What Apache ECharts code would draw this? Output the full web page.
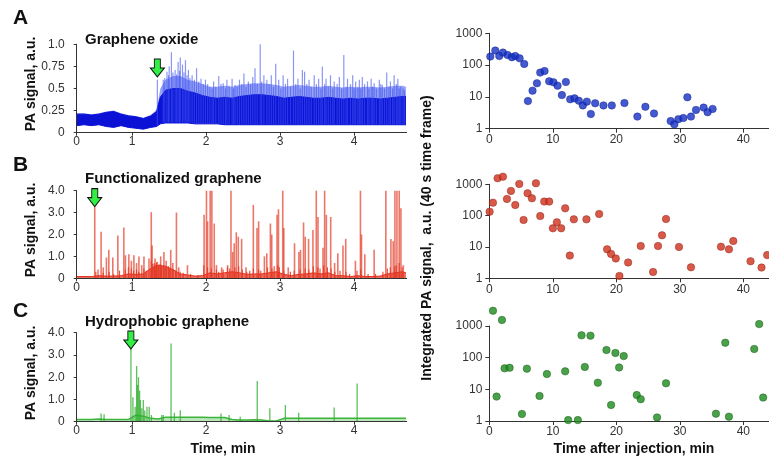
<!DOCTYPE html>
<html><head><meta charset="utf-8">
<script src="https://cdn.jsdelivr.net/npm/echarts@6/dist/echarts.min.js"></script>
<style>html,body{margin:0;padding:0;background:#fff}#c{width:769px;height:464px}</style>
</head><body><div id="c"></div>
<script>
const FONT = "'Liberation Sans', Arial, sans-serif";

// ---- left panels: time axis ----
const timeTickPos = [0.25, 1, 2, 3, 4];
const timeTickLabels = ['0', '1', '2', '3', '4'];
const envTimes = [0.25,0.35,0.45,0.55,0.65,0.75,0.85,0.95,1.05,1.15,1.25,1.35,1.45,1.55,1.65,1.75,1.85,1.95,2.05,2.15,2.25,2.35,2.45,2.55,2.65,2.75,2.85,2.95,3.05,3.15,3.25,3.35,3.45,3.55,3.65,3.75,3.85,3.95,4.05,4.15,4.25,4.35,4.45,4.55,4.65,4.70];

// Panel A: graphene oxide (band envelope + texture + spikes)
const aTimes = [0.25,0.35,0.45,0.55,0.65,0.75,0.85,0.95,1.05,1.15,1.25,1.33,1.38,1.45,1.55,1.65,1.75,1.85,1.95,2.05,2.15,2.25,2.35,2.45,2.55,2.65,2.75,2.85,2.95,3.05,3.15,3.25,3.35,3.45,3.55,3.65,3.75,3.85,3.95,4.05,4.15,4.25,4.35,4.45,4.55,4.65,4.70];
const aUpper   = [.21,.21,.2,.21,.23,.24,.21,.19,.18,.16,.19,.24,.4,.48,.5,.5,.47,.45,.42,.4,.39,.4,.39,.41,.42,.43,.43,.42,.41,.39,.4,.41,.4,.39,.39,.4,.39,.38,.39,.38,.39,.39,.38,.39,.4,.41,.41];
const aTexture = [.22,.22,.21,.22,.24,.25,.22,.2,.19,.17,.2,.26,.5,.6,.64,.64,.6,.58,.55,.52,.52,.53,.52,.54,.55,.56,.56,.55,.54,.52,.53,.54,.53,.52,.52,.53,.52,.51,.52,.51,.52,.52,.51,.52,.53,.53,.52];
const aLower   = [.08,.09,.08,.09,.07,.06,.08,.06,.05,.04,.06,.07,.1,.11,.11,.11,.11,.1,.1,.1,.1,.09,.09,.09,.09,.09,.09,.09,.09,.09,.09,.09,.09,.09,.09,.09,.09,.09,.09,.09,.09,.09,.09,.09,.09,.09,.09];
const aSpikes = [[1.34,.6],[1.42,.6],[1.44,.62],[1.47,.69],[1.49,.65],[1.5,.75],[1.53,.91],[1.55,.68],[1.58,.71],[1.6,.66],[1.62,.8],[1.64,.7],[1.65,.85],[1.68,.77],[1.7,.68],[1.72,.82],[1.74,.65],[1.76,.71],[1.78,.62],[1.81,.65],[1.84,.6],[1.87,.73],[1.9,.58],[1.93,.61],[1.96,.55],[1.99,.6],[2.02,.55],[2.05,.52],[2.08,.5],[2.1,.58],[2.13,.52],[2.17,.64],[2.2,.55],[2.23,.56],[2.26,.5],[2.28,.6],[2.31,.53],[2.35,.61],[2.37,.5],[2.39,.54],[2.42,.52],[2.45,.6],[2.48,.55],[2.51,.67],[2.54,.52],[2.57,.58],[2.6,.55],[2.63,.63],[2.66,.73],[2.69,.55],[2.73,1.0],[2.75,.58],[2.78,.65],[2.82,.6],[2.85,.55],[2.88,.65],[2.91,.52],[2.94,.78],[2.98,.6],[3.01,.5],[3.04,.65],[3.07,.55],[3.1,.61],[3.14,.52],[3.18,.93],[3.21,.55],[3.24,.61],[3.27,.5],[3.3,.71],[3.33,.69],[3.36,.55],[3.39,.6],[3.42,.52],[3.46,.65],[3.49,.55],[3.52,.61],[3.55,.5],[3.57,.75],[3.6,.55],[3.62,.61],[3.65,.52],[3.68,.65],[3.71,.5],[3.73,.58],[3.77,.55],[3.8,.63],[3.83,.5],[3.86,.88],[3.89,.52],[3.91,.61],[3.95,.55],[3.98,.65],[4.0,.5],[4.02,.58],[4.05,.52],[4.07,.6],[4.09,.5],[4.11,.63],[4.14,.55],[4.18,.58],[4.2,.5],[4.23,.61],[4.25,.52],[4.27,.56],[4.3,.5],[4.34,.6],[4.36,.55],[4.38,.54],[4.41,.5],[4.44,.68],[4.47,.52],[4.49,.58],[4.52,.5],[4.54,.65],[4.57,.55],[4.59,.61],[4.61,.5],[4.63,.52],[4.66,.5],[4.68,.48]];
const aArrow = [1.34, 0.63];

// Panel B: functionalized graphene
const bBase = [.08,.08,.08,.12,.1,.1,.12,.2,.18,.2,.45,.6,.55,.4,.2,.15,.1,.12,.25,.2,.25,.3,.25,.18,.2,.2,.25,.3,.18,.12,.18,.2,.25,.2,.25,.12,.12,.08,.12,.08,.08,.1,.2,.25,.3,.25];
const bSpikes = [[0.485,3.25],[0.571,2.13],[0.6,0.5],[0.643,0.95],[0.675,1.3],[0.729,0.95],[0.797,1.95],[0.878,2.32],[0.9,1.05],[0.946,1.1],[0.98,0.8],[1.014,1.05],[1.05,0.7],[1.082,1.0],[1.12,0.6],[1.15,1.0],[1.218,0.9],[1.249,3.02],[1.26,1.5],[1.3,0.9],[1.33,0.75],[1.376,1.0],[1.42,1.2],[1.45,0.8],[1.512,1.3],[1.54,0.7],[1.589,3.0],[1.62,0.5],[1.738,0.6],[1.963,2.9],[1.995,4.0],[2.01,2.6],[2.045,4.0],[2.068,4.0],[2.1,2.5],[2.13,0.6],[2.2,0.5],[2.28,0.6],[2.326,4.0],[2.35,1.2],[2.37,1.6],[2.398,2.1],[2.425,1.9],[2.47,1.8],[2.529,0.5],[2.628,3.35],[2.678,2.3],[2.7,2.6],[2.778,1.0],[2.81,1.14],[2.859,2.5],[2.877,2.0],[2.949,2.9],[2.968,3.15],[3.026,4.0],[3.04,2.3],[3.1,0.5],[3.185,1.6],[3.244,1.2],[3.266,1.3],[3.307,2.55],[3.33,1.9],[3.375,1.8],[3.434,2.2],[3.479,4.0],[3.502,2.8],[3.57,1.4],[3.592,4.0],[3.615,2.9],[3.674,2.8],[3.727,0.7],[3.77,1.14],[3.84,1.5],[3.877,1.8],[4.008,0.8],[4.076,4.0],[4.09,2.0],[4.135,1.1],[4.261,1.3],[4.419,4.0],[4.488,1.8],[4.519,1.7],[4.542,4.0],[4.569,4.0],[4.6,4.0],[4.623,3.2],[4.655,0.6]];
const bNoise = [[0.52,0.3],[0.55,0.4],[0.62,0.25],[0.7,0.3],[0.76,0.2],[0.84,0.35],[0.92,0.4],[0.96,0.5],[1.0,0.45],[1.03,0.35],[1.07,0.4],[1.1,0.3],[1.17,0.45],[1.2,0.35],[1.27,0.8],[1.29,0.65],[1.31,0.7],[1.32,0.6],[1.34,0.72],[1.37,0.6],[1.39,0.65],[1.41,0.55],[1.44,0.6],[1.47,0.5],[1.5,0.55],[1.52,0.45],[1.56,0.4],[1.6,0.35],[1.66,0.3],[1.7,0.25],[1.8,0.2],[1.9,0.15],[1.98,0.6],[2.03,0.5],[2.08,0.45],[2.15,0.4],[2.18,0.3],[2.24,0.4],[2.3,0.5],[2.33,0.45],[2.4,0.5],[2.45,0.55],[2.5,0.4],[2.56,0.3],[2.6,0.35],[2.65,0.45],[2.72,0.4],[2.75,0.35],[2.84,0.5],[2.9,0.45],[2.93,0.55],[2.98,0.6],[3.0,0.5],[3.06,0.35],[3.15,0.3],[3.2,0.35],[3.28,0.4],[3.35,0.45],[3.4,0.4],[3.46,0.55],[3.52,0.5],[3.55,0.45],[3.6,0.6],[3.65,0.5],[3.7,0.45],[3.75,0.3],[3.82,0.35],[3.9,0.3],[3.95,0.2],[4.05,0.35],[4.1,0.4],[4.2,0.2],[4.3,0.2],[4.4,0.3],[4.46,0.45],[4.5,0.5],[4.56,0.55],[4.58,0.6],[4.62,0.7],[4.66,0.5]];
const bArrow = [0.485, 3.27];

// Panel C: hydrophobic graphene
const cBase = [.1,.1,.1,.12,.1,.1,.1,.1,.3,.25,.15,.12,.2,.2,.2,.2,.2,.2,.19,.19,.19,.1,.08,.08,.09,.08,.03,.03,.15,.15,.15,.15,.15,.15,.15,.15,.15,.15,.15,.15,.15,.15,.15,.15,.15,.15];
const cSpikes = [[0.58,0.37],[0.62,0.34],[0.983,3.4],[1.01,1.1],[1.04,0.67],[1.06,2.5],[1.07,1.65],[1.085,2.0],[1.1,1.4],[1.11,0.97],[1.13,0.6],[1.15,0.97],[1.17,0.5],[1.2,0.67],[1.23,0.67],[1.26,0.3],[1.4,0.3],[1.42,0.3],[1.525,3.52],[1.57,0.4],[1.65,0.52],[2.2,0.37],[2.31,0.3],[2.46,0.22],[2.69,1.83],[2.86,0.6],[3.07,0.75],[3.25,0.4],[3.73,0.64],[4.04,1.72]];
const cArrow = [0.982, 3.27];

// ---- right panels: integrated PA signal (log) ----
const rA = [[0.16,185],[0.94,287],[1.57,193],[2.15,247],[2.88,208],[3.56,177],[4.09,193],[4.77,163],[5.5,109],[6.08,7.4],[6.81,15.7],[7.5,26.8],[8.02,58],[8.7,65],[9.43,31],[10.1,28.7],[10.75,22.6],[11.43,11.4],[12.06,29.5],[12.74,8.4],[13.42,9],[14.1,7.6],[14.73,5.4],[15.36,7.1],[15.99,2.9],[16.67,6.3],[17.98,5.4],[19.29,5.4],[21.28,6.4],[23.32,2.4],[24.58,4.9],[25.94,3.0],[28.56,1.74],[29.14,1.37],[29.77,2.0],[30.56,2.17],[31.19,9.7],[31.76,2.4],[32.55,3.9],[33.75,4.6],[34.38,3.3],[35.17,4.2]];
const rB = [[0.05,134],[0.58,260],[1.31,1560],[2.15,1750],[2.78,340],[3.41,615],[4.09,218],[4.72,1030],[5.4,73],[6.03,515],[6.71,357],[7.34,1080],[8.02,97],[8.65,280],[9.43,280],[10.01,39.5],[10.64,61],[11.32,39.5],[11.95,171],[12.68,5.3],[13.31,76],[15.3,76],[17.3,113],[18.55,8.4],[19.18,6],[19.92,4.3],[20.49,1.19],[21.86,3.2],[23.85,10.7],[25.79,1.59],[26.57,10.7],[27.2,23.6],[27.83,78],[29.87,10],[31.76,2.24],[36.48,10.2],[37.74,8.4],[38.42,15.5],[41.14,3.5],[42.87,2.2],[43.76,5.5]];
const rC = [[0.58,3030],[1.15,5.9],[1.99,1550],[2.41,46],[3.2,48],[5.14,1.66],[5.92,45],[7.91,6.2],[9.07,30.5],[11.95,37],[12.42,1.07],[13.94,1.07],[14.52,507],[15.04,51],[15.93,495],[17.09,16.2],[18.45,174],[19.18,3.2],[19.86,141],[20.44,49],[21.17,112],[23.22,6.6],[23.85,4.9],[26.42,1.3],[27.83,15.5],[35.69,1.7],[37.16,297],[37.74,1.37],[41.72,188],[42.5,1150],[43.13,5.5]];

const AX = '#333';
const arrowPath = 'path://M4,0 L10,0 L10,9 L14,9 L7,18 L0,9 L4,9 Z';

function zip(xs, ys) { return xs.map((x, i) => [x, ys[i]]); }
function timeLabel(v) {
  let best = 0;
  timeTickPos.forEach((p, i) => { if (Math.abs(p - v) < Math.abs(timeTickPos[best] - v)) best = i; });
  return timeTickLabels[best];
}
const lblStyle = { color: AX, fontSize: 12, fontFamily: FONT };

const leftGrids = [
  { left: 76.7, width: 330, top: 44.3, height: 88.4 },
  { left: 76.7, width: 330, top: 190.7, height: 87.6 },
  { left: 76.7, width: 330, top: 332.7, height: 89 }
];
const rightGrids = [
  { left: 489.3, width: 279.4, top: 33.3, height: 95.4 },
  { left: 489.3, width: 279.4, top: 184.3, height: 94 },
  { left: 489.3, width: 279.4, top: 326, height: 95 }
];

const xAxes = [], yAxes = [];
for (let i = 0; i < 3; i++) {
  xAxes.push({
    type: 'value', gridIndex: i, min: 0.25, max: 4.71, z: 10,
    axisLine: { lineStyle: { color: AX } },
    axisTick: { customValues: timeTickPos, length: 3, lineStyle: { color: AX } },
    axisLabel: Object.assign({ customValues: timeTickPos, formatter: timeLabel, margin: 3 }, lblStyle),
    splitLine: { show: false }
  });
}
yAxes.push({ type: 'value', gridIndex: 0, min: 0, max: 1, interval: 0.25, z: 10,
  axisLine: { show: true, lineStyle: { color: AX } }, axisTick: { show: true, length: 3, lineStyle: { color: AX } },
  axisLabel: Object.assign({ margin: 12, formatter: v => v === 0 ? '0' : (v === 1 ? '1.0' : String(v)) }, lblStyle),
  splitLine: { show: false } });
for (let i = 1; i < 3; i++) {
  yAxes.push({ type: 'value', gridIndex: i, min: 0, max: 4, interval: 1, z: 10,
    axisLine: { show: true, lineStyle: { color: AX } }, axisTick: { show: true, length: 3, lineStyle: { color: AX } },
    axisLabel: Object.assign({ margin: 12, formatter: v => v === 0 ? '0' : v.toFixed(1) }, lblStyle),
    splitLine: { show: false } });
}
for (let i = 0; i < 3; i++) {
  xAxes.push({ type: 'value', gridIndex: 3 + i, min: 0, max: 44, interval: 10,
    axisLine: { lineStyle: { color: AX } }, axisTick: { length: 4, lineStyle: { color: AX } },
    axisLabel: Object.assign({ margin: 5, showMaxLabel: false }, lblStyle),
    splitLine: { show: false } });
  yAxes.push({ type: 'log', gridIndex: 3 + i, min: 1, max: 1000, logBase: 10,
    axisLine: { show: true, lineStyle: { color: AX } }, axisTick: { show: true, length: 4, lineStyle: { color: AX } },
    axisLabel: Object.assign({ margin: 7, formatter: v => String(Math.round(v)) }, lblStyle),
    splitLine: { show: false }, minorTick: { show: false } });
}

function arrowMark(coord) {
  return {
    symbol: arrowPath, symbolSize: [14, 18], symbolOffset: [0, '-50%'],
    itemStyle: { color: '#33ee44', borderColor: '#111', borderWidth: 1 },
    label: { show: false }, silent: true,
    data: [{ coord: coord }]
  };
}

const BLUE = '#0b12d6', RED = '#e2301c', GREEN = '#3cb43c';
const series = [
  // light texture top of the dense signal
  { type: 'line', xAxisIndex: 0, yAxisIndex: 0, data: zip(aTimes, aTexture), symbol: 'none',
    lineStyle: { width: 0 }, areaStyle: { color: 'rgba(70,90,240,0.55)', opacity: 1 }, silent: true, z: 1 },
  // band top: solid blue area from zero
  { type: 'line', xAxisIndex: 0, yAxisIndex: 0, data: zip(aTimes, aUpper), symbol: 'none',
    lineStyle: { width: 1, color: BLUE }, areaStyle: { color: BLUE, opacity: 1 }, silent: true, z: 2 },
  // spikes above the band
  { type: 'bar', xAxisIndex: 0, yAxisIndex: 0, data: aSpikes, barWidth: 1.2, itemStyle: { color: 'rgba(60,80,240,0.6)' }, silent: true, z: 3,
    markPoint: arrowMark(aArrow) },
  // band bottom: white below the lower edge
  { type: 'line', xAxisIndex: 0, yAxisIndex: 0, data: zip(aTimes, aLower), symbol: 'none',
    lineStyle: { width: 1, color: BLUE }, areaStyle: { color: '#ffffff', opacity: 1 }, silent: true, z: 4 },

  { type: 'line', xAxisIndex: 1, yAxisIndex: 1, data: zip(envTimes, bBase), symbol: 'none',
    lineStyle: { width: 1, color: RED }, areaStyle: { color: RED, opacity: 0.7 }, silent: true, z: 2 },
  { type: 'bar', xAxisIndex: 1, yAxisIndex: 1, data: bNoise, barWidth: 1.2, itemStyle: { color: 'rgba(226,48,28,0.85)' }, silent: true, z: 3 },
  { type: 'bar', xAxisIndex: 1, yAxisIndex: 1, data: bSpikes, barWidth: 1.6, itemStyle: { color: 'rgba(228,60,40,0.7)' }, silent: true, z: 3,
    markPoint: arrowMark(bArrow) },

  { type: 'line', xAxisIndex: 2, yAxisIndex: 2, data: zip(envTimes, cBase), symbol: 'none',
    lineStyle: { width: 1.5, color: GREEN }, areaStyle: { color: GREEN, opacity: 0.35 }, silent: true, z: 2 },
  { type: 'bar', xAxisIndex: 2, yAxisIndex: 2, data: cSpikes, barWidth: 1.3, itemStyle: { color: 'rgba(50,175,50,0.8)' }, silent: true, z: 3,
    markPoint: arrowMark(cArrow) },

  { type: 'scatter', xAxisIndex: 3, yAxisIndex: 3, data: rA, symbolSize: 7.5, clip: false,
    itemStyle: { color: '#1530c4', borderColor: '#0a1a80', borderWidth: 0.5 } },
  { type: 'scatter', xAxisIndex: 4, yAxisIndex: 4, data: rB, symbolSize: 7.5, clip: false,
    itemStyle: { color: '#d0301c', borderColor: '#801810', borderWidth: 0.5 } },
  { type: 'scatter', xAxisIndex: 5, yAxisIndex: 5, data: rC, symbolSize: 7.5, clip: false,
    itemStyle: { color: '#1c8a1c', borderColor: '#0c4a0c', borderWidth: 0.5 } }
];

function txt(text, x, y, size, opts) {
  opts = opts || {};
  return {
    type: 'text', x: x, y: y, rotation: opts.rot || 0, silent: true, z: 20,
    style: { text: text, fill: '#111', font: 'bold ' + size + 'px ' + FONT,
      align: opts.align || 'left', verticalAlign: 'middle' }
  };
}
const R = Math.PI / 2;
const graphics = [
  txt('A', 13, 18, 21), txt('B', 13, 165, 21), txt('C', 13, 311, 21),
  txt('Graphene oxide', 85, 40, 15), txt('Functionalized graphene', 85, 179, 15), txt('Hydrophobic graphene', 85, 322, 15),
  txt('PA signal, a.u.', 31, 84, 14, { rot: R, align: 'center' }),
  txt('PA signal, a.u.', 31, 230, 14, { rot: R, align: 'center' }),
  txt('PA signal, a.u.', 31, 373, 14, { rot: R, align: 'center' }),
  txt('Time, min', 223, 449, 14, { align: 'center' }),
  txt('Time after injection, min', 634, 449, 14, { align: 'center' }),
  txt('Integrated PA signal,  a.u. (40 s time frame)', 427, 238, 14, { rot: R, align: 'center' })
];

const chart = echarts.init(document.getElementById('c'), null, { renderer: 'canvas' });
chart.setOption({
  animation: false,
  backgroundColor: '#fff',
  grid: leftGrids.concat(rightGrids),
  xAxis: xAxes, yAxis: yAxes,
  series: series,
  graphic: graphics
});
</script></body></html>
